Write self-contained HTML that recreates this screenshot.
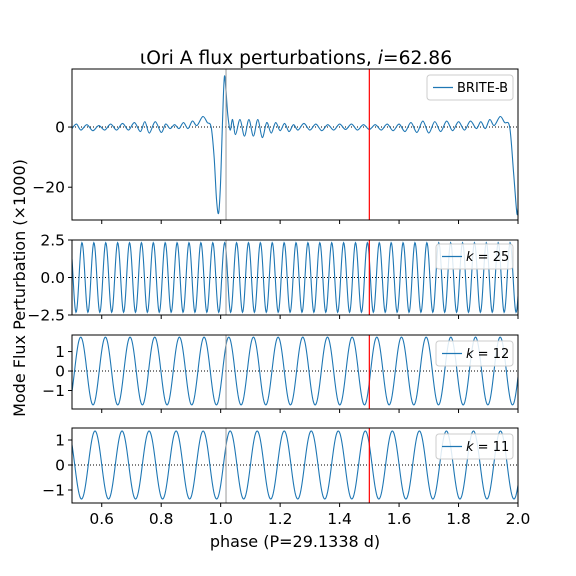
<!DOCTYPE html>
<html><head><meta charset="utf-8"><style>
body{margin:0;background:#fff}
svg{font-family:"DejaVu Sans","Liberation Sans",sans-serif;display:block}
</style></head><body>
<svg id="chart" width="576" height="576" viewBox="0 0 576 576">
<text x="296" y="64" font-size="18.7" text-anchor="middle">ιOri A flux perturbations, <tspan font-style="italic">i</tspan>=62.86</text>
<text transform="translate(25,288) rotate(-90)" font-size="16" text-anchor="middle">Mode Flux Perturbation (×1000)</text>
<text x="295" y="547" font-size="16" text-anchor="middle">phase (P=29.1338 d)</text>
<g id="panels"></g>
</svg>
<script>
const xTicks = [0.6, 0.8, 1.0, 1.2, 1.4, 1.6, 1.8, 2.0];
const xTickLabels = ["0.6", "0.8", "1.0", "1.2", "1.4", "1.6", "1.8", "2.0"];
const greyLine = 1.018;
const redLine = 1.5;
const brightPhase = [0.50,0.515,0.53,0.55,0.57,0.59,0.61,0.63,0.65,0.67,0.69,0.71,0.73,0.745,0.76,0.78,0.80,0.815,0.83,0.845,0.86,0.875,0.89,0.905,0.92,0.94,0.955,0.968,0.978,0.986,0.993,0.999,1.004,1.009,1.013,1.018,1.024,1.032,1.04,1.05,1.065,1.08,1.095,1.11,1.125,1.14,1.155,1.17,1.185,1.2,1.215,1.23,1.245,1.26,1.28,1.30,1.32,1.34,1.36,1.38,1.40,1.42,1.44,1.46,1.48,1.50,1.52,1.54,1.56,1.58,1.60,1.62,1.64,1.66,1.68,1.70,1.72,1.74,1.76,1.78,1.80,1.82,1.84,1.86,1.875,1.89,1.905,1.92,1.94,1.955,1.972,1.985,1.996,2.0];
const brightFlux = [-0.5,1.0,-1.0,0.8,-1.2,0.5,-1.0,1.0,-1.0,1.2,-1.0,1.5,-1.5,1.8,-2.0,1.8,-1.8,1.0,-0.5,0.8,-0.5,1.5,-0.5,2.0,0.5,3.5,1.5,0,-10,-24,-28.7,-20,-5,10,17,12,4,-1,2.5,-2.5,2.5,-3,2.5,-3,2.5,-3.5,1.5,-2,1.5,-1.2,1.2,-1.5,0.8,-1.0,1.2,-1.0,1.0,-1.2,0.8,-1.0,1.0,-0.8,1.0,-1.0,0.8,-0.8,0.8,-1.0,1.0,-1.2,1.0,-1.5,1.5,-1.8,2.0,-2.0,1.8,-1.5,2.0,-1.2,1.8,-1.0,2.0,-0.5,1.8,-0.5,2.5,0.5,3.5,1.5,0,-15,-28.5,-27];
const modeLabels = ["25", "12", "11"];
const modeK = [25, 12.05, 11.0];
const modeAmp = [2.32, 1.74, 1.36];
const modePeak = [0.5336, 0.5293, 0.5774];

const NS = "http://www.w3.org/2000/svg";
const root = document.getElementById("panels");
const X0 = 72, X1 = 518, xmin = 0.5, xmax = 2.0;
const xs = v => X0 + (v - xmin) / (xmax - xmin) * (X1 - X0);
function el(tag, attrs, parent) {
  const e = document.createElementNS(NS, tag);
  for (const k in attrs) e.setAttribute(k, attrs[k]);
  (parent || root).appendChild(e);
  return e;
}
const panels = [
  {top: 69, bot: 220, ymin: -30.9, ymax: 19.3, yt: [0, -20], ytl: ["0", "−20"], leg: "BRITE-B", lx: 427, ly: 75, lw: 86},
  {top: 240, bot: 315, ymin: -2.5, ymax: 2.5, yt: [2.5, 0, -2.5], ytl: ["2.5", "0.0", "−2.5"], leg: 0, lx: 436, ly: 244, lw: 77},
  {top: 335, bot: 409, ymin: -1.95, ymax: 1.85, yt: [1, 0, -1], ytl: ["1", "0", "−1"], leg: 1, lx: 436, ly: 341, lw: 77},
  {top: 428, bot: 503, ymin: -1.52, ymax: 1.48, yt: [1, 0, -1], ytl: ["1", "0", "−1"], leg: 2, lx: 436, ly: 434, lw: 77}
];
panels.forEach((p, i) => {
  const g = el("g", {});
  
  
  const ys = v => p.bot - (v - p.ymin) / (p.ymax - p.ymin) * (p.bot - p.top);
  const clipId = "c" + i;
  const cp = el("clipPath", {id: clipId}, g);
  el("rect", {x: X0, y: p.top, width: X1 - X0, height: p.bot - p.top}, cp);
  const z = el("line", {x1: X0, x2: X1, y1: ys(0), y2: ys(0), stroke: "#000", "stroke-width": 1, "stroke-dasharray": "1,2"}, g);
  
  
  let d = "";
  if (i === 0) {
    const P = brightPhase.map((ph, j) => [xs(ph), ys(brightFlux[j])]);
    d = "M" + P[0][0] + "," + P[0][1];
    for (let j = 0; j < P.length - 1; j++) {
      const a = P[Math.max(j - 1, 0)], b = P[j], c = P[j + 1], e = P[Math.min(j + 2, P.length - 1)];
      d += " C" + (b[0] + (c[0] - a[0]) / 6) + "," + (b[1] + (c[1] - a[1]) / 6) + " " + (c[0] - (e[0] - b[0]) / 6) + "," + (c[1] - (e[1] - b[1]) / 6) + " " + c[0] + "," + c[1];
    }
  } else {
    const m = i - 1;
    for (let s = 0; s <= 900; s++) {
      const ph = xmin + (xmax - xmin) * s / 900;
      const v = modeAmp[m] * Math.cos(2 * Math.PI * modeK[m] * (ph - modePeak[m]));
      d += (s ? "L" : "M") + xs(ph).toFixed(2) + "," + ys(v).toFixed(2);
    }
  }
  const line = el("path", {d: d, fill: "none", stroke: "#1f77b4", "stroke-width": 1.1, "clip-path": "url(#" + clipId + ")"}, g);
  
  
  const gl = el("line", {x1: xs(greyLine), x2: xs(greyLine), y1: p.top, y2: p.bot, stroke: "#999", "stroke-width": 1}, g);
  
  
  const rl = el("line", {x1: xs(redLine), x2: xs(redLine), y1: p.top, y2: p.bot, stroke: "#ff0000", "stroke-width": 1.2}, g);
  
  
  const fr = el("rect", {x: X0, y: p.top, width: X1 - X0, height: p.bot - p.top, fill: "none", stroke: "#000", "stroke-width": 1}, g);
  
  
  xTicks.forEach((t, j) => {
    const tk = el("line", {x1: xs(t), x2: xs(t), y1: p.bot, y2: p.bot + 4, stroke: "#000"}, g);
    
    
    if (i === 3) {
      const tl = el("text", {x: xs(t), y: p.bot + 21, "font-size": 15.5, "text-anchor": "middle"}, g);
      tl.textContent = xTickLabels[j];
      
      
    }
  });
  p.yt.forEach((t, j) => {
    const tk = el("line", {x1: X0 - 4, x2: X0, y1: ys(t), y2: ys(t), stroke: "#000"}, g);
    
    
    const tl = el("text", {x: X0 - 7, y: ys(t) + 5.5, "font-size": 15.5, "text-anchor": "end"}, g);
    tl.textContent = p.ytl[j];
    
    
  });
  const lg = el("g", {}, g);
  
  
  el("rect", {x: p.lx, y: p.ly, width: p.lw, height: 25, rx: 3, fill: "#fff", "fill-opacity": 0.85, stroke: "#ccc"}, lg);
  el("line", {x1: p.lx + 6, x2: p.lx + 26, y1: p.ly + 12.5, y2: p.ly + 12.5, stroke: "#1f77b4", "stroke-width": 1.2}, lg);
  const lt = el("text", {x: p.lx + 30, y: p.ly + 17, "font-size": 13}, lg);
  if (i === 0) lt.textContent = p.leg;
  else lt.innerHTML = '<tspan font-style="italic">k</tspan> = ' + modeLabels[p.leg];
});
</script>
</body></html>
